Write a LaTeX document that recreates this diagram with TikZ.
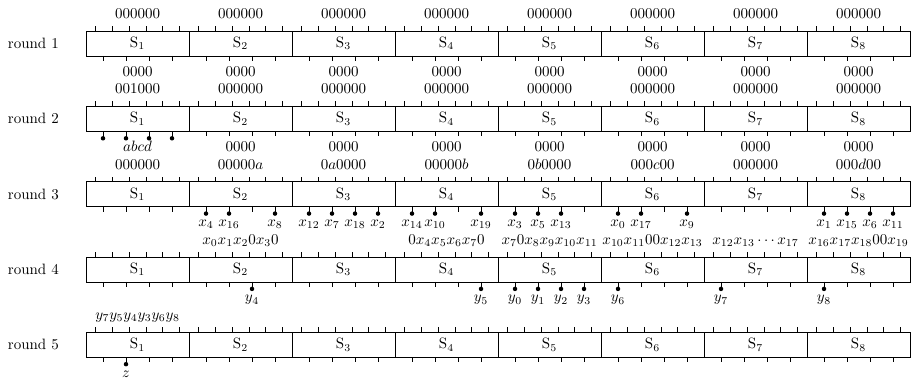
\documentclass[tikz,border=0pt]{standalone}
\usetikzlibrary{calc}
\newcommand\mydot[3]{%
  \draw ($(b#1#2.south west)+({23*#3-6},0)$) -- ++(0,7) coordinate (d#1#2#3);
  \fill (d#1#2#3) circle[radius=1.5pt];}
\newcommand\mydotl[4]{\mydot{#1}{#2}{#3}%
  \node[lbl] (l#1#2#3) at ($(d#1#2#3)+(0,13)$) {$#4$};}
\begin{document}
\begin{tikzpicture}[x=0.666667pt,y=-0.666667pt, line width=0.5pt,
  sbox/.style={draw, rectangle, minimum width=68.6667pt, minimum height=16.6667pt,
    inner sep=0pt, outer sep=0pt, anchor=north west},
  lbl/.style={anchor=base, inner sep=0pt, outer sep=0pt},
  roundlbl/.style={anchor=west, inner sep=0pt}]
\useasboundingbox (0,0) rectangle (916,381);
% boxes and ticks
\foreach \r in {1,...,5}{
  \pgfmathsetmacro{\ty}{31+75.3*(\r-1)}
  \node[roundlbl] (r\r) at (7.5,\ty+12.5) {round \r};
  \foreach \i in {1,...,8}{
    \pgfmathsetmacro{\bx}{86+103*(\i-1)}
    \node[sbox] (b\r\i) at (\bx,\ty) {S$_\i$};
    \foreach \o in {9.5,26.3,43.1,59.9,76.7,93.5}
      {\draw ($(b\r\i.north west)+(\o,0)$) -- ++(0,-5);}
    \foreach \o in {17,40,63,86}
      {\draw ($(b\r\i.south west)+(\o,0)$) -- ++(0,5);}
  }
}
% round 1 labels
\foreach \i in {1,...,8}{
  \node[lbl] (t1\i) at ($(b1\i.north)+(0,-12.5)$) {000000};
  \node[lbl] (u1\i) at ($(b1\i.south)+(0,20.5)$) {0000};
}
% round 2 labels
\foreach \i/\t in {1/001000,2/000000,3/000000,4/000000,5/000000,6/000000,7/000000,8/000000}
  {\node[lbl] (t2\i) at ($(b2\i.north)+(0,-12.5)$) {\t};}
\foreach \i in {2,...,8}
  {\node[lbl] (u2\i) at ($(b2\i.south)+(0,20.5)$) {0000};}
\foreach \k in {1,...,4} {\mydot{2}{1}{\k}}
\node[lbl] (u21) at ($(b21.south)+(0,20.5)$) {$abcd$};
% round 3 labels
\foreach \i/\t in {1/000000,2/{00000$a$},3/{0$a$0000},4/{00000$b$},5/{0$b$0000},6/{000$c$00},7/000000,8/{000$d$00}}
  {\node[lbl] (t3\i) at ($(b3\i.north)+(0,-12.5)$) {\t};}
\foreach \i/\k/\t in {2/1/x_4,2/2/x_{16},2/4/x_8,
  3/1/x_{12},3/2/x_7,3/3/x_{18},3/4/x_2,
  4/1/x_{14},4/2/x_{10},4/4/x_{19},
  5/1/x_3,5/2/x_5,5/3/x_{13},
  6/1/x_0,6/2/x_{17},6/4/x_9,
  8/1/x_1,8/2/x_{15},8/3/x_6,8/4/x_{11}}
  {\mydotl{3}{\i}{\k}{\t}}
% round 4 labels
\foreach \i/\t in {2/{x_0x_1x_20x_30},4/{0x_4x_5x_6x_70},5/{x_70x_8x_9x_{10}x_{11}},
  6/{x_{10}x_{11}00x_{12}x_{13}},7/{x_{12}x_{13}\cdots x_{17}},8/{x_{16}x_{17}x_{18}00x_{19}}}
  {\node[lbl] (t4\i) at ($(b4\i.north)+(0,-12.5)$) {$\t$};}
\foreach \i/\k/\t in {2/3/y_4,4/4/y_5,5/1/y_0,5/2/y_1,5/3/y_2,5/4/y_3,6/1/y_6,7/1/y_7,8/1/y_8}
  {\mydotl{4}{\i}{\k}{\t}}
% round 5 labels
\node[lbl] (t51) at ($(b51.north)+(0,-12.5)$) {$y_7y_5y_4y_3y_6y_8$};
\mydotl{5}{1}{2}{z}
\end{tikzpicture}
\end{document}
